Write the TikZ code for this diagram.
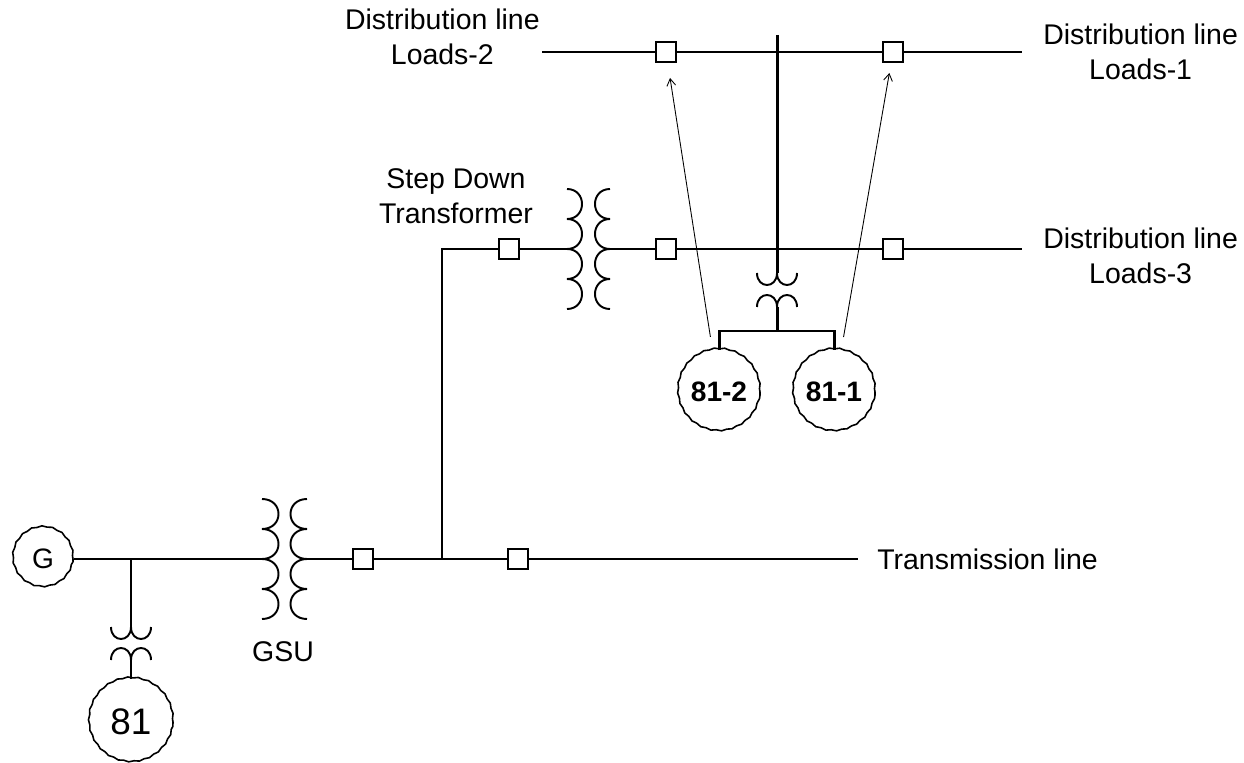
\documentclass[tikz,border=0pt]{standalone}
\usepackage{fontspec}
\setmainfont{Liberation Sans}
\usetikzlibrary{arrows, arrows.meta, positioning, decorations.pathmorphing}
\tikzstyle{bus} = [line width=1.7pt]
\tikzstyle{coil} = [line width=1.1pt]
\tikzstyle{breaker} = [draw, fill=white, line width=1.3pt, rectangle, minimum size=0.4cm, inner sep=0pt]
\tikzstyle{relay} = [draw, circle, line width=0.9pt, minimum size=1.64cm, inner sep=0pt, decorate, decoration={snake, amplitude=0.3pt, segment length=6pt}, font=\fontsize{16}{19}\selectfont\bfseries]
\tikzstyle{tag} = [inner sep=0pt, align=center, font=\fontsize{16.2}{20}\selectfont]
\tikzstyle{trip} = [-{Straight Barb[length=4pt, width=5pt]}, line width=0.5pt, shorten <=0.28cm, shorten >=0.3cm]
\newcommand{\vcoil}[3]{\draw[coil] (#1,#2) \foreach \k in {1,...,4}{ .. controls +(#3,0) and +(#3,0) .. ++(0,30)};}
\newcommand{\hcoil}[3]{\draw[coil] (#1-20,#2) \foreach \k in {1,2}{ .. controls +(0,#3) and +(0,#3) .. ++(20,0)};}

\begin{document}
\begin{tikzpicture}[x=0.02cm, y=-0.02cm]
	\useasboundingbox (0,0) rectangle (1244,763);
	% generator and GSU
	\node[relay, minimum size=1.2cm, font=\fontsize{16}{19}\selectfont] (gen) at (43,559) {G};
	\coordinate (tap) at (131,559);
	\coordinate (gsuA) at (262,559);
	\coordinate (gsuB) at (307,559);
	\node[breaker] (cb1) at (363,559) {};
	\coordinate (jn) at (442,559);
	\node[breaker] (cb2) at (518,559) {};
	\coordinate (tline) at (858,559);
	\vcoil{262}{499}{22}
	\vcoil{307}{499}{-22}
	\node[tag] at (283,652) {GSU};
	\node[tag, right=0.38cm of tline] {Transmission line};
	\draw[bus] (gen) -- (gsuA);
	\draw[bus] (gsuB) -- (cb1) -- (jn) -- (cb2) -- (tline);
	% relay 81
	\coordinate (pt1) at (131,627);
	\coordinate (pt1b) at (131,660);
	\hcoil{131}{627}{16}
	\hcoil{131}{660}{-16}
	\node[relay, minimum size=1.68cm, font=\fontsize{21}{24}\selectfont] (r81) at (131,722) {81};
	\draw[bus] (tap) -- (pt1);
	\draw[bus] (pt1b) -- (r81);
	% step down transformer
	\coordinate (corner) at (442,249);
	\node[breaker] (cb3) at (509,249) {};
	\coordinate (sdA) at (567,249);
	\coordinate (sdB) at (610,249);
	\vcoil{567}{189}{20}
	\vcoil{610}{189}{-20}
	\node[breaker] (cb4) at (666,249) {};
	\node[breaker] (cb5) at (893,249) {};
	\coordinate (d3end) at (1022,249);
	\draw[bus] (jn) -- (corner) -- (cb3) -- (sdA);
	\draw[bus] (sdB) -- (cb4) -- (cb5) -- (d3end);
	\node[tag] at (456,196) {Step Down\\Transformer};
	\node[tag, right=0.42cm of d3end, yshift=-0.14cm] {Distribution line\\Loads-3};
	% top bus
	\coordinate (d2end) at (542,52);
	\node[breaker] (cb6) at (666,52) {};
	\node[breaker] (cb7) at (893,52) {};
	\coordinate (d1end) at (1022,52);
	\draw[bus] (d2end) -- (cb6) -- (cb7) -- (d1end);
	\node[tag, left=0.04cm of d2end, yshift=0.3cm] {Distribution line\\Loads-2};
	\node[tag, right=0.42cm of d1end] {Distribution line\\Loads-1};
	% relays 81-1 and 81-2
	\coordinate (vtop) at (777,35);
	\coordinate (pt2) at (777,273);
	\coordinate (pt2b) at (777,307);
	\coordinate (bar) at (777,331);
	\hcoil{777}{273}{16}
	\hcoil{777}{307}{-16}
	\node[relay] (r812) at (719,392) {81-2};
	\node[relay] (r811) at (834,392) {81-1};
	\draw[bus] (vtop) -- (pt2);
	\draw[bus] (pt2b) -- (bar);
	\draw[bus] (r812) |- (bar) -| (r811);
	\draw[trip] (r812) -- (cb6);
	\draw[trip, shorten >=0.2cm] (r811) -- (cb7);
\end{tikzpicture}
\end{document}
